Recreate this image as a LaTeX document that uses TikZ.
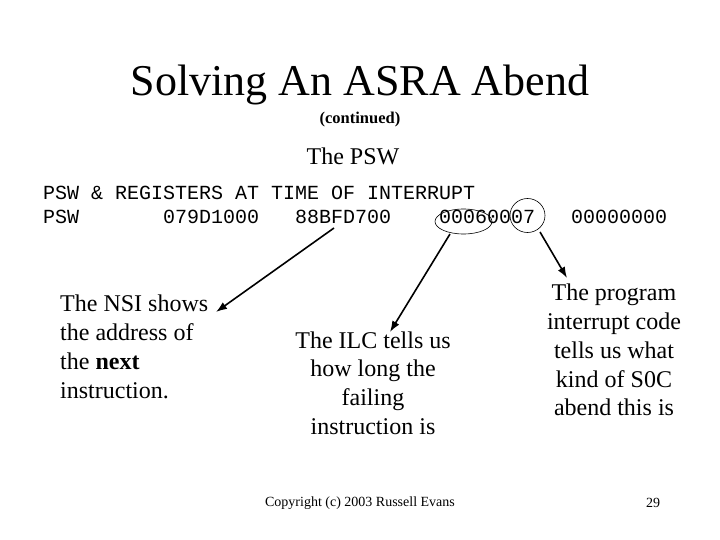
\documentclass[tikz,border=0pt]{standalone}
\usepackage{fontspec}
\setmainfont{Liberation Serif}
\setmonofont{Liberation Mono}
\usetikzlibrary{arrows.meta,shapes.geometric}
\begin{document}
\begin{tikzpicture}[x=1pt,y=-1pt,
  body/.style={inner sep=0pt,font=\fontsize{24}{28.8}\selectfont},
  mono/.style={inner sep=0pt,anchor=base west,font=\ttfamily\fontsize{20}{24}\selectfont},
  ring/.style={draw,ellipse,inner sep=0pt,line width=0.6pt},
  pointer/.style={line width=1.6pt,-{Latex[length=11pt,width=8pt]}}]
\useasboundingbox (0,0) rectangle (720,540);
\fill[white] (0,0) rectangle (720,540);
% titles
\node[inner sep=0pt,font=\fontsize{44}{50}\selectfont] (title) at (360,85) {Solving An ASRA Abend};
\node[inner sep=0pt,font=\bfseries\fontsize{16.5}{18}\selectfont] (cont) at (360,120) {(continued)};
\node[inner sep=0pt,font=\fontsize{24}{28}\selectfont] (psw) at (353,156) {The PSW};
% dump lines
\node[mono] (l1) at (43,200) {PSW \& REGISTERS AT TIME OF INTERRUPT};
\node[mono] (w0) at (43,224) {PSW};
\node[mono] (w1) at (163,224) {079D1000};
\node[mono] (w2) at (295,224) {88BFD700};
\node[mono] (w3) at (439,224) {00060007};
\node[mono] (w4) at (571,224) {00000000};
% rings
\node[ring,minimum width=57pt,minimum height=25pt] (e1) at (463.5,221.5) {};
\node[ring,minimum width=35pt,minimum height=34pt] (e2) at (527.5,215.5) {};
% explanations
\node[body,align=left,anchor=west] (nsi) at (60,347) {The NSI shows\\the address of\\the \textbf{next}\\instruction.};
\node[body,align=center] (ilc) at (373,383) {The ILC tells us\\how long the\\failing\\instruction is};
\node[body,align=center] (pic) at (614,350) {The program\\interrupt code\\tells us what\\kind of S0C\\abend this is};
% connector ends
\coordinate (s1) at (334,228);
\coordinate (t1) at (216,312);
\coordinate (s2) at (450,234);
\coordinate (t2) at (390,332);
\coordinate (s3) at (540,232);
\coordinate (t3) at (567,278);
\draw[pointer] (s1) -- (t1);
\draw[pointer] (s2) -- (t2);
\draw[pointer] (s3) -- (t3);
% footer
\node[inner sep=0pt,font=\fontsize{14}{16}\selectfont] (copy) at (360,503) {Copyright (c) 2003 Russell Evans};
\node[inner sep=0pt,font=\fontsize{14}{16}\selectfont] (page) at (653,503) {29};
\end{tikzpicture}
\end{document}
